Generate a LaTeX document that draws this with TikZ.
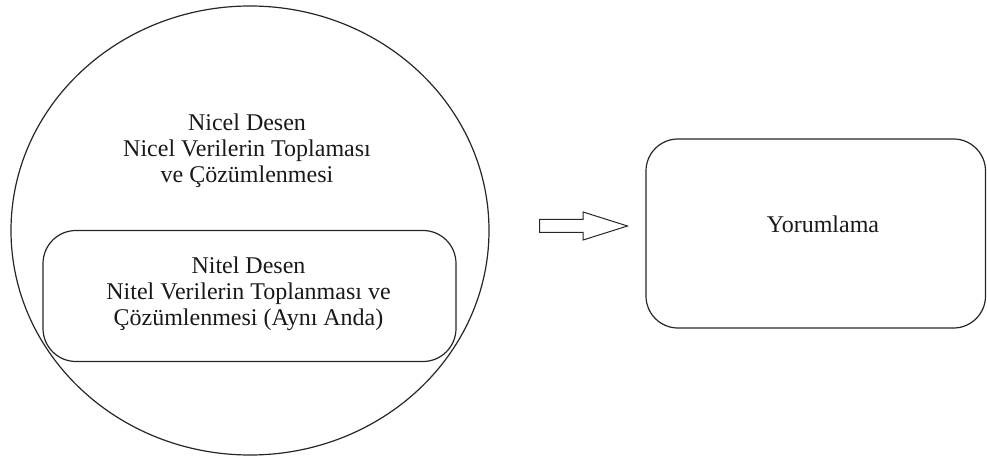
\documentclass[tikz,border=0pt]{standalone}
\usepackage{fontspec}
\setmainfont{Liberation Serif}
\usetikzlibrary{shapes.arrows,shapes.geometric}
\begin{document}
\begin{tikzpicture}[x=1pt,y=-1pt,
  outline/.style={draw=black!85,line width=1.2pt},
  label/.style={align=center,font=\fontsize{24}{26}\selectfont,text=black!90,inner sep=0pt},
  roundbox/.style={outline,rectangle,inner sep=0pt,rounded corners=33pt}]
\useasboundingbox (0,0) rectangle (987,462);
% outer ellipse: the quantitative design
\node[outline,ellipse,minimum width=478pt,minimum height=449pt,inner sep=0pt] (nicel) at (250,230.5) {};
\node[label] (niceltxt) at (247,151) {Nicel Desen\\Nicel Verilerin Toplaması\\ve Çözümlenmesi};
% inner rounded box: the qualitative design
\node[roundbox,minimum width=413pt,minimum height=131pt] (nitelbox) at (249.5,296) {};
\node[label] (nitel) at (248.5,293.5) {Nitel Desen\\Nitel Verilerin Toplanması ve\\Çözümlenmesi (Aynı Anda)};
% block arrow towards interpretation
\node[single arrow,draw=black!85,line width=1pt,minimum height=88pt,inner xsep=0pt,inner ysep=6pt,
  text height=0pt,text depth=0pt,single arrow head extend=7.5pt,single arrow tip angle=35,
  outer sep=0pt,anchor=tail] (ok) at (539.5,226) {};
% interpretation box
\node[roundbox,rounded corners=32pt,minimum width=339.5pt,minimum height=189pt] (yorum) at (815.75,233.5) {};
\node[label] (yorumtxt) at (823,224) {Yorumlama};
\end{tikzpicture}
\end{document}
